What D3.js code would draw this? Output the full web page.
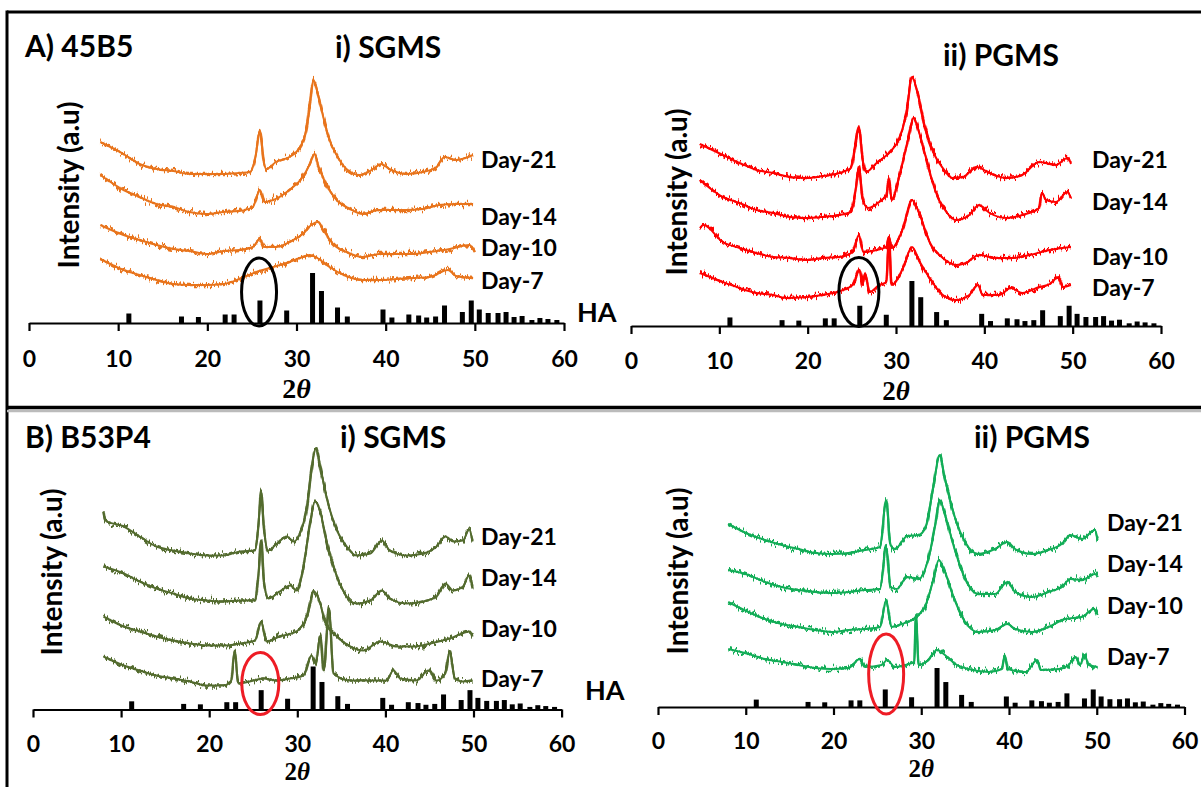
<!DOCTYPE html>
<html><head><meta charset="utf-8">
<script src="https://cdn.jsdelivr.net/npm/d3@7/dist/d3.min.js"></script>
<style>body{margin:0;background:#fff}svg{display:block}</style>
</head><body>
<script>
// ---------- DATA ----------
const xTicks = [0,10,20,30,40,50,60];
const dayNames = ["Day-21","Day-14","Day-10","Day-7"];
// HA reference pattern (2θ, relative intensity %)
const haTheta = [11.2,17.1,19.0,22.0,23.0,25.9,28.9,31.8,32.8,34.6,35.7,39.7,40.7,42.6,43.7,44.6,45.6,46.6,48.6,49.6,50.5,51.5,52.6,53.5,54.4,55.3,56.4,57.3,58.2,59.2];
const haInt   = [19,13,12,17,17,45,25,100,64,31,13,27,11,17,15,11,13,35,22,45,27,20,20,22,12,14,6,10,8,6];

// A) 45B5 - i) SGMS  [2θ, intensity a.u.]
const a45S_d21 = [[8.0,181],[10.6,169],[12.4,159],[14.3,154],[16.2,152],[18.0,149],[19.9,149],[21.8,149],[23.6,150],[24.8,151],[25.4,166],[25.9,193],[26.3,163],[26.6,154],[27.7,161],[29.2,166],[30.4,176],[31.1,193],[31.5,219],[31.9,243],[32.4,229],[33.0,206],[33.7,183],[34.5,168],[35.6,154],[37.1,148],[38.6,154],[39.5,159],[40.4,154],[42.3,149],[44.2,151],[45.7,156],[46.6,166],[47.9,163],[49.8,168]];
const a45S_d14 = [[8.0,148],[10.6,133],[12.4,126],[14.3,119],[16.2,116],[18.0,111],[19.9,109],[21.8,111],[23.6,112],[25.1,116],[25.9,133],[26.4,121],[27.4,123],[29.2,133],[30.7,146],[31.5,159],[32.0,169],[32.5,156],[33.3,139],[34.5,123],[36.0,114],[37.4,109],[39.3,113],[40.4,113],[42.3,113],[44.2,114],[46.0,118],[47.9,119],[49.8,119]];
const a45S_d10 = [[8.0,98],[10.6,88],[12.4,83],[14.3,78],[16.2,74],[18.0,72],[19.9,69],[21.8,72],[23.6,73],[25.1,76],[25.9,84],[26.4,76],[27.7,76],[29.2,81],[30.7,89],[31.8,99],[32.4,101],[33.0,93],[34.1,79],[35.6,71],[37.4,66],[39.3,69],[41.2,69],[43.0,69],[44.9,71],[47.2,74],[49.4,78],[50.0,71]];
const a45S_d7  = [[8.0,64],[10.6,53],[12.4,48],[14.3,43],[16.2,39],[18.0,38],[19.9,38],[21.8,39],[23.6,44],[25.5,51],[27.4,56],[29.2,61],[30.7,66],[31.5,68],[32.5,64],[33.7,56],[35.3,48],[37.4,43],[39.3,43],[41.2,44],[43.0,45],[44.9,46],[47.0,53],[47.9,47],[49.8,45]];

// A) 45B5 - ii) PGMS
const a45P_d21 = [[7.8,182],[10.4,171],[12.3,163],[14.2,156],[16.1,153],[18.0,149],[19.9,148],[21.7,150],[23.6,153],[24.9,158],[25.4,181],[25.8,200],[26.2,168],[26.6,154],[27.8,163],[29.3,174],[30.4,188],[31.2,214],[31.8,249],[32.5,231],[33.2,201],[34.2,174],[35.3,158],[36.4,148],[37.6,149],[39.1,159],[40.6,153],[42.5,148],[44.3,151],[46.2,164],[48.1,161],[49.4,168],[49.8,163]];
const a45P_d14 = [[7.8,146],[8.9,138],[10.4,129],[12.3,123],[14.2,116],[16.1,113],[18.0,109],[19.9,108],[21.7,109],[23.6,111],[24.9,114],[25.4,134],[25.8,159],[26.2,128],[26.8,118],[28.1,124],[28.9,131],[29.2,148],[29.5,126],[30.4,151],[31.4,188],[32.0,208],[32.7,191],[33.4,168],[34.5,134],[35.7,114],[36.8,106],[38.3,111],[39.4,121],[40.6,113],[42.5,108],[44.3,111],[46.2,118],[46.5,133],[47.0,126],[48.1,124],[49.4,134],[49.8,128]];
const a45P_d10 = [[7.8,98],[8.2,101],[10.4,84],[12.3,78],[14.2,73],[16.1,69],[18.0,68],[19.9,66],[21.7,68],[23.6,69],[25.1,74],[25.8,91],[26.3,74],[27.8,76],[28.9,79],[29.2,89],[29.5,78],[30.8,98],[31.8,126],[32.7,111],[33.8,84],[35.3,68],[36.8,61],[37.9,63],[39.4,71],[41.3,68],[43.2,68],[45.1,71],[47.4,76],[49.8,79]];
const a45P_d7  = [[7.8,53],[10.4,44],[12.3,38],[14.2,33],[16.1,31],[17.6,28],[19.9,29],[21.7,31],[23.3,34],[25.1,41],[25.9,56],[26.2,41],[26.5,53],[27.0,34],[28.1,41],[28.9,44],[29.2,88],[29.5,41],[30.8,58],[31.8,79],[32.7,64],[33.8,48],[35.3,31],[36.8,26],[38.3,31],[39.3,41],[39.8,31],[41.7,31],[43.0,38],[44.3,33],[46.2,39],[47.4,42],[48.4,49],[48.9,39],[49.8,41]];

// B) B53P4 - i) SGMS
const b53S_d21 = [[8.0,198],[8.2,189],[10.3,183],[12.1,173],[14.0,163],[15.9,159],[17.8,156],[19.7,154],[21.6,154],[23.5,158],[25.2,159],[25.6,186],[25.9,218],[26.2,183],[26.7,159],[27.7,166],[28.8,173],[29.6,168],[30.3,176],[31.1,203],[31.6,239],[32.1,261],[32.6,243],[33.3,213],[34.5,179],[35.6,163],[36.7,154],[38.3,156],[39.6,169],[40.5,159],[42.4,154],[44.3,156],[45.8,163],[46.8,173],[47.7,168],[48.8,169],[49.5,180],[49.9,168]];
const b53S_d14 = [[8.0,143],[10.3,136],[12.1,128],[14.0,121],[15.9,116],[17.8,111],[19.7,109],[21.6,108],[23.5,109],[25.2,109],[25.6,136],[25.9,169],[26.2,129],[26.7,111],[28.0,118],[29.2,124],[29.9,119],[30.7,143],[31.4,183],[32.0,208],[32.6,198],[33.3,169],[34.5,133],[35.6,113],[36.7,106],[38.3,109],[39.6,119],[40.5,111],[42.4,106],[44.3,108],[45.8,113],[46.8,126],[47.7,119],[48.8,123],[49.5,134],[49.9,123]];
const b53S_d10 = [[8.0,93],[10.3,83],[12.1,78],[14.0,73],[15.9,69],[17.8,66],[19.7,64],[21.6,64],[23.5,66],[25.2,69],[25.9,88],[26.5,68],[28.0,73],[29.9,78],[31.1,93],[31.9,118],[32.6,106],[33.1,89],[34.5,73],[36.0,63],[37.5,59],[39.4,68],[41.3,63],[43.2,63],[45.1,66],[47.3,71],[49.6,78],[49.9,73]];
const b53S_d7  = [[8.0,53],[10.3,44],[12.1,39],[14.0,34],[15.9,31],[17.8,28],[19.7,24],[21.6,24],[22.5,29],[22.9,59],[23.3,26],[24.6,28],[26.1,31],[27.7,29],[29.2,31],[30.7,34],[31.6,54],[32.1,46],[32.6,74],[33.0,39],[33.6,101],[34.1,36],[36.0,29],[38.6,29],[40.1,29],[40.9,39],[41.7,31],[43.5,29],[44.9,39],[45.8,29],[46.8,36],[47.3,58],[47.9,31],[48.8,28],[49.9,29]];

// B) B53P4 - ii) PGMS
const b53P_d21 = [[8.0,183],[10.3,173],[12.2,167],[14.1,162],[16.0,158],[17.9,154],[19.8,153],[21.7,154],[23.6,157],[25.3,160],[26.0,207],[26.5,162],[27.0,158],[28.4,171],[29.7,172],[30.5,180],[31.4,222],[32.1,252],[32.7,228],[33.9,188],[35.0,165],[36.5,153],[38.4,158],[39.8,165],[40.7,158],[42.6,153],[44.5,157],[46.0,163],[47.0,172],[48.3,168],[49.8,177],[50.1,167]];
const b53P_d14 = [[8.0,137],[10.3,132],[12.2,125],[14.1,120],[16.0,117],[17.9,115],[19.8,114],[21.7,115],[23.6,117],[25.3,118],[26.0,160],[26.5,120],[27.2,118],[28.4,130],[29.7,128],[30.8,148],[31.6,182],[32.1,207],[32.7,192],[33.9,155],[35.0,128],[36.5,113],[38.4,113],[39.8,125],[40.7,115],[42.6,110],[44.5,115],[46.0,120],[47.0,128],[48.3,127],[49.8,133],[50.1,130]];
const b53P_d10 = [[8.0,105],[10.3,95],[12.2,88],[14.1,83],[16.0,80],[17.9,77],[19.8,75],[21.7,77],[23.6,78],[25.3,80],[26.0,107],[26.6,80],[27.8,83],[29.1,88],[30.5,102],[31.4,128],[32.0,147],[32.7,135],[33.9,105],[35.0,85],[36.5,75],[38.4,77],[39.8,83],[40.7,78],[42.6,75],[44.5,80],[46.4,88],[48.3,90],[49.7,98],[50.1,92]];
const b53P_d7  = [[8.0,58],[10.3,53],[12.2,48],[14.1,45],[16.0,42],[17.9,39],[19.8,38],[21.7,39],[23.0,48],[23.6,40],[25.5,42],[26.1,47],[27.0,40],[28.6,43],[29.2,45],[29.4,92],[29.7,42],[30.8,47],[31.8,57],[32.7,52],[33.9,43],[35.4,38],[37.7,35],[39.2,38],[39.5,52],[39.9,38],[41.9,35],[43.2,47],[43.6,37],[45.7,38],[46.8,42],[47.6,50],[48.1,42],[48.6,52],[49.1,42],[50.1,40]];

// ---------- LAYOUT ----------
const panels = [
  {series:[a45S_d21,a45S_d14,a45S_d10,a45S_d7], color:"#E8741C", px:[29,564], axisY:323, stickH:50,
   dayX:481, dayY:[160,217,248,281], yLab:[69,185], ha:[577,312], pad:19.5, xLabDy:75, xLabFs:28,
   ell:{t:25.8,v:31,rx:17.5,ry:34,c:"#000"}, title:{t:"i) SGMS",x:335,y:58}},
  {series:[a45P_d21,a45P_d14,a45P_d10,a45P_d7], color:"#FF0000", px:[631,1161], axisY:326, stickH:45,
   dayX:1092, dayY:[160,202,257,288], yLab:[677,192], ha:null, pad:19, xLabDy:73.5, xLabFs:27,
   ell:{t:25.8,v:34,rx:20,ry:34.5,c:"#000"}, title:{t:"ii) PGMS",x:943,y:66}},
  {series:[b53S_d21,b53S_d14,b53S_d10,b53S_d7], color:"#536B2E", px:[33,561.6], axisY:709.5, stickH:43,
   dayX:481, dayY:[537,578,629,679], yLab:[52,572], ha:[585,690], pad:18, xLabDy:70, xLabFs:25,
   ell:{t:25.8,v:26,rx:18.5,ry:31,c:"#EE1C25"}, title:{t:"i) SGMS",x:340,y:448}},
  {series:[b53P_d21,b53P_d14,b53P_d10,b53P_d7], color:"#12AD57", px:[658,1184.5], axisY:707, stickH:39,
   dayX:1107, dayY:[523,564,606,657], yLab:[678,571], ha:null, pad:18, xLabDy:70, xLabFs:25,
   ell:{t:26.0,v:33,rx:17.5,ry:40,c:"#EE1C25"}, title:{t:"ii) PGMS",x:974,y:448}}
];
const FONT = "Lato, 'Open Sans', sans-serif";

const svg = d3.select("body").append("svg").attr("width",1201).attr("height",787)
  .style("background","#fff");

const defs = svg.append("defs");
const f = defs.append("filter").attr("id","noise").attr("filterUnits","userSpaceOnUse")
  .attr("x",0).attr("y",0).attr("width",1201).attr("height",787)
  .attr("color-interpolation-filters","sRGB");
f.append("feTurbulence").attr("type","fractalNoise").attr("baseFrequency","0.55 0.05")
  .attr("numOctaves",2).attr("seed",4).attr("result","t");
f.append("feColorMatrix").attr("in","t").attr("type","matrix")
  .attr("values","1 0 0 0 0  0 0 0 0 0.5  0 0 0 0 0  0 0 0 0 1").attr("result","m");
f.append("feDisplacementMap").attr("in","SourceGraphic").attr("in2","m").attr("scale",12)
  .attr("xChannelSelector","G").attr("yChannelSelector","R");

// frame
svg.append("line").attr("x1",7).attr("x2",1201).attr("y1",12).attr("y2",12).attr("stroke","#000").attr("stroke-width",3);
svg.append("line").attr("x1",7).attr("x2",7).attr("y1",10.5).attr("y2",787).attr("stroke","#000").attr("stroke-width",3);
svg.append("line").attr("x1",7).attr("x2",1201).attr("y1",411).attr("y2",411).attr("stroke","#bbb").attr("stroke-width",2.5);
svg.append("line").attr("x1",7).attr("x2",1201).attr("y1",407.5).attr("y2",407.5).attr("stroke","#000").attr("stroke-width",3.5);

// panel group titles
svg.append("text").attr("x",25).attr("y",57).text("A) 45B5")
  .style("font-family",FONT).style("font-weight",700).style("font-size","30px");
svg.append("text").attr("x",25).attr("y",448).text("B) B53P4")
  .style("font-family",FONT).style("font-weight",700).style("font-size","30px");

panels.forEach(p => {
  const g = svg.append("g");
  const x = d3.scaleLinear().domain([0,60]).range(p.px);
  const y = d3.scaleLinear().domain([0,300]).range([p.axisY, p.axisY-300]);
  const s = d3.scaleLinear().domain([0,100]).range([0,p.stickH]);

  // curves: solid core + jagged noisy overlay (render style)
  const line = d3.line().x(d=>x(d[0])).y(d=>y(d[1])).curve(d3.curveMonotoneX);
  g.append("g").selectAll("path").data(p.series).join("path")
    .attr("d",line).attr("fill","none").attr("stroke",p.color).attr("stroke-width",2)
    .attr("stroke-linejoin","round");
  g.append("g").attr("filter","url(#noise)").selectAll("path").data(p.series).join("path")
    .attr("d",line).attr("fill","none").attr("stroke",p.color).attr("stroke-width",2.4)
    .attr("stroke-linejoin","round");

  // HA sticks
  g.append("g").selectAll("rect").data(haTheta.map((t,i)=>[t,haInt[i]])).join("rect")
    .attr("x",d=>x(d[0])-2.5).attr("width",5)
    .attr("y",d=>p.axisY - s(d[1])).attr("height",d=>s(d[1])).attr("fill","#000");

  // axis
  const ax = g.append("g").attr("transform",`translate(0,${p.axisY})`)
    .call(d3.axisBottom(x).tickValues(xTicks).tickSize(8).tickSizeOuter(0).tickPadding(p.pad));
  ax.select(".domain").attr("stroke","#000").attr("stroke-width",2.2);
  ax.selectAll(".tick line").attr("stroke","#000").attr("stroke-width",2.2);
  ax.selectAll(".tick text").style("font-family",FONT).style("font-weight",700)
    .style("font-size","23px").attr("fill","#000");

  // 2θ label
  const xl = g.append("text").attr("x",x(30)).attr("y",p.axisY+p.xLabDy).attr("text-anchor","middle")
    .style("font-family","'Liberation Serif', 'DejaVu Serif', serif").style("font-size",p.xLabFs+"px");
  xl.append("tspan").text("2").style("font-weight",700);
  xl.append("tspan").text("θ").style("font-style","italic").style("font-weight",700);

  // y label
  g.append("text").attr("transform",`translate(${p.yLab[0]},${p.yLab[1]}) rotate(-90)`)
    .attr("text-anchor","middle").attr("dy","0.36em").text("Intensity (a.u)")
    .style("font-family",FONT).style("font-weight",700).style("font-size","28px");

  // day labels
  g.selectAll("text.day").data(dayNames).join("text").attr("class","day")
    .attr("x",p.dayX).attr("y",(d,i)=>p.dayY[i]).attr("dy","0.36em").text(d=>d)
    .style("font-family",FONT).style("font-weight",700).style("font-size","23px");

  if (p.ha) g.append("text").attr("x",p.ha[0]).attr("y",p.ha[1]).attr("dy","0.36em").text("HA")
    .style("font-family",FONT).style("font-weight",700).style("font-size","27px");

  // panel title
  g.append("text").attr("x",p.title.x).attr("y",p.title.y).text(p.title.t)
    .style("font-family",FONT).style("font-weight",700).style("font-size","30px");

  // highlight ellipse
  g.append("ellipse").attr("cx",x(p.ell.t)).attr("cy",y(p.ell.v)).attr("rx",p.ell.rx).attr("ry",p.ell.ry)
    .attr("fill","none").attr("stroke",p.ell.c).attr("stroke-width",3);
});
</script>
</body></html>
